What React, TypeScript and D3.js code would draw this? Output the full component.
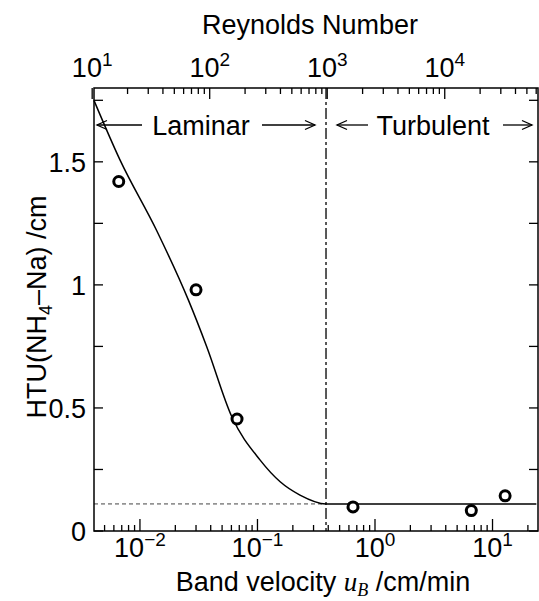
import React from "react";
import * as d3 from "d3";

// Measured HTU values against band velocity
const velocity = [0.0066, 0.03, 0.067, 0.65, 6.6, 12.8];
const htu = [1.42, 0.98, 0.455, 0.098, 0.083, 0.143];

// Correlation curve (band velocity, HTU)
const fitVelocity = [0.00406, 0.00676, 0.0139, 0.0258, 0.037, 0.0604, 0.105, 0.156, 0.23, 0.383, 23.6];
const fitHtu = [1.75, 1.508, 1.22, 0.939, 0.749, 0.465, 0.289, 0.2, 0.146, 0.11, 0.11];

const transitionVelocity = 0.383;
const turbulentHtu = 0.11;
const reynoldsPerVelocity = 2550;

const bottomMajors = [1e-2, 1e-1, 1, 10];
const bottomExponents = ["\u22122", "\u22121", "0", "1"];
const topMajors = [10, 100, 1000, 10000];
const topExponents = ["1", "2", "3", "4"];
const yMajors = [0, 0.5, 1, 1.5];
const yLabels = ["0", "0.5", "1", "1.5"];
const yMinors = [0.25, 0.75, 1.25, 1.75];

const W = 539;
const H = 601;
const L = 94;
const R = 538;
const T = 88;
const B = 531;
const FONT = "'Liberation Sans', Arial, Helvetica, sans-serif";
const SERIF = "'Liberation Serif', 'DejaVu Serif', serif";

const uMin = Math.pow(10, -2.391);
const uMax = Math.pow(10, 1.387);

function Arrow({ x1, x2, y }: { x1: number; x2: number; y: number }) {
  // arrow pointing toward x2
  const dir = x2 > x1 ? 1 : -1;
  const hl = 10;
  const hw = 4.5;
  return (
    <g stroke="#000" strokeWidth={1.3} fill="none">
      <line x1={x1} x2={x2} y1={y} y2={y} />
      <polyline points={`${x2 - dir * hl},${y - hw} ${x2},${y} ${x2 - dir * hl},${y + hw}`} />
    </g>
  );
}

export default function App() {
  const x = d3.scaleLog().domain([uMin, uMax]).range([L, R]);
  const xTop = d3
    .scaleLog()
    .domain([uMin * reynoldsPerVelocity, uMax * reynoldsPerVelocity])
    .range([L, R]);
  const y = d3.scaleLinear().domain([0, 1.8]).range([B, T]);

  const bottomMinor = x.ticks().filter((v) => !bottomMajors.some((m) => Math.abs(m - v) / m < 1e-6));
  const topMinor = xTop.ticks().filter((v) => !topMajors.some((m) => Math.abs(m - v) / m < 1e-6));

  const fitLine = d3
    .line<number>()
    .x((_, i) => x(fitVelocity[i]))
    .y((d) => y(d))
    .curve(d3.curveMonotoneX);

  const xt = x(transitionVelocity);
  const fs = 27;
  const sup = 19;

  return (
    <div style={{ position: "fixed", left: 0, top: 0 }}>
      <svg width={W} height={H} style={{ display: "block", background: "#fff" }} fontFamily={FONT}>
        <rect x={0} y={0} width={W} height={H} fill="#fff" />

        {/* reference lines */}
        <line x1={L} x2={xt} y1={y(turbulentHtu)} y2={y(turbulentHtu)} stroke="#444" strokeWidth={1} strokeDasharray="4 3" />
        <line x1={xt} x2={xt} y1={T} y2={B} stroke="#000" strokeWidth={1.3} strokeDasharray="11 3 3 3" />

        {/* correlation curve */}
        <path d={fitLine(fitHtu) || ""} fill="none" stroke="#000" strokeWidth={1.5} />

        {/* measured points */}
        {velocity.map((v, i) => (
          <circle key={i} cx={x(v)} cy={y(htu[i])} r={5} fill="#fff" stroke="#000" strokeWidth={3} />
        ))}

        {/* frame */}
        <rect x={L} y={T} width={R - L} height={B - T} fill="none" stroke="#000" strokeWidth={1.5} />

        {/* bottom axis */}
        {bottomMajors.map((v) => (
          <line key={"bM" + v} x1={x(v)} x2={x(v)} y1={B} y2={B - 12} stroke="#000" strokeWidth={1.3} />
        ))}
        {bottomMinor.map((v) => (
          <line key={"bm" + v} x1={x(v)} x2={x(v)} y1={B} y2={B - 6} stroke="#000" strokeWidth={1.3} />
        ))}
        {bottomMajors.map((v, i) => (
          <text key={"bl" + v} x={x(v)} y={557} fontSize={fs} textAnchor="middle">
            10
            <tspan dy={-11} fontSize={sup}>
              {bottomExponents[i]}
            </tspan>
          </text>
        ))}

        {/* top axis (Reynolds number) */}
        {topMajors.map((v) => (
          <line key={"tM" + v} x1={xTop(v)} x2={xTop(v)} y1={T} y2={T + 11} stroke="#000" strokeWidth={1.3} />
        ))}
        {topMinor.map((v) => (
          <line key={"tm" + v} x1={xTop(v)} x2={xTop(v)} y1={T} y2={T + 6} stroke="#000" strokeWidth={1.3} />
        ))}
        {topMajors.map((v, i) => (
          <text key={"tl" + v} x={xTop(v)} y={77} fontSize={fs} textAnchor="middle">
            10
            <tspan dy={-11} fontSize={sup}>
              {topExponents[i]}
            </tspan>
          </text>
        ))}

        {/* y ticks, left and right */}
        {[...yMajors, ...yMinors].map((v) => (
          <g key={"y" + v} stroke="#000" strokeWidth={1.3}>
            <line x1={L} x2={L + 9} y1={y(v)} y2={y(v)} />
            <line x1={R} x2={R - 9} y1={y(v)} y2={y(v)} />
          </g>
        ))}
        {yMajors.map((v, i) => (
          <text key={"yl" + v} x={86} y={y(v) + 10} fontSize={fs} textAnchor="end">
            {yLabels[i]}
          </text>
        ))}

        {/* axis titles */}
        <text x={310} y={34} fontSize={fs} textAnchor="middle">
          Reynolds Number
        </text>
        <text x={323} y={591} fontSize={fs} textAnchor="middle">
          Band velocity{" "}
          <tspan fontFamily={SERIF} fontStyle="italic">
            u
          </tspan>
          <tspan fontFamily={SERIF} fontStyle="italic" fontSize={18} dy={5}>
            B
          </tspan>
          <tspan dy={-5}> /cm/min</tspan>
        </text>
        <text transform={`translate(46,307) rotate(-90)`} fontSize={fs} textAnchor="middle">
          HTU(NH
          <tspan fontSize={18} dy={6}>
            4
          </tspan>
          <tspan dy={-6}>{"\u2013"}Na) /cm</tspan>
        </text>

        {/* flow regime labels */}
        <Arrow x1={142} x2={97} y={125} />
        <text x={201} y={135} fontSize={fs} textAnchor="middle">
          Laminar
        </text>
        <Arrow x1={262} x2={315} y={125} />
        <Arrow x1={368} x2={337} y={125} />
        <text x={433} y={135} fontSize={fs} textAnchor="middle">
          Turbulent
        </text>
        <Arrow x1={503} x2={532} y={125} />
      </svg>
    </div>
  );
}
